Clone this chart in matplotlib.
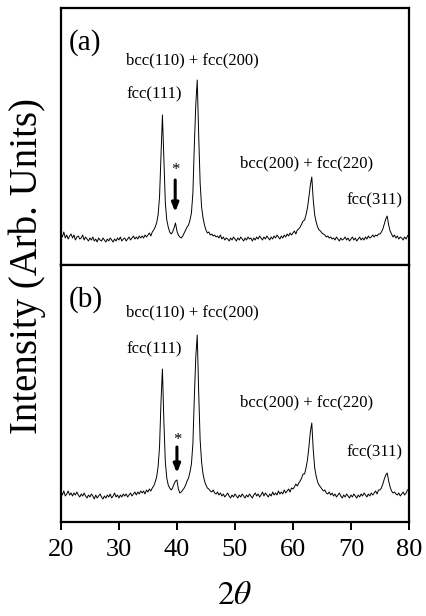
import numpy as np
import matplotlib
matplotlib.use("Agg")
import matplotlib.pyplot as plt

# 2theta grid, 0.25 degree steps from 20 to 80
two_theta = np.arange(20, 80.001, 0.25)

# intensity, 4 values per degree
int_a = [
    31, 28, 33, 27,  30, 26, 29, 31,  27, 30, 25, 28,  29, 26, 27, 30,   # 20-23
    25, 28, 26, 24,  27, 25, 28, 24,  26, 23, 27, 25,  24, 27, 25, 23,   # 24-27
    26, 24, 27, 25,  23, 26, 24, 27,  25, 28, 24, 26,  27, 24, 26, 28,   # 28-31
    25, 27, 29, 26,  28, 26, 29, 27,  29, 27, 30, 28,  30, 32, 29, 33,   # 32-35
    35, 38, 42, 50,  68, 110, 150, 105,  62, 45, 38, 33,  31, 33, 37, 42,  # 36-39
    34, 30, 28, 27,  29, 32, 35, 38,  40, 45, 52, 72,  120, 160, 185, 130,  # 40-43
    82, 58, 47, 40,  35, 32, 33, 30,  31, 29, 30, 28,  29, 27, 30, 26,   # 44-47
    28, 25, 27, 26,  24, 27, 25, 28,  26, 24, 27, 25,  28, 26, 24, 27,   # 48-51
    25, 28, 26, 27,  24, 27, 25, 28,  26, 29, 27, 25,  28, 26, 29, 27,   # 52-55
    25, 28, 26, 29,  27, 30, 28, 26,  29, 27, 30, 28,  31, 29, 32, 30,   # 56-59
    32, 34, 31, 35,  36, 38, 41, 44,  45, 50, 57, 68,  80, 88, 65, 50,   # 60-63
    43, 38, 35, 34,  32, 31, 30, 28,  29, 27, 28, 26,  27, 25, 28, 26,   # 64-67
    24, 27, 25, 26,  28, 25, 27, 24,  26, 28, 25, 27,  24, 26, 28, 25,   # 68-71
    27, 25, 28, 26,  29, 27, 28, 30,  28, 30, 29, 31,  31, 33, 36, 41,   # 72-75
    46, 49, 40, 34,  31, 28, 30, 27,  29, 26, 28, 27,  25, 28, 26, 29,   # 76-79
    31,                                                                  # 80
]

# intensity
int_b = [
    30, 27, 31, 26,  28, 31, 27, 29,  26, 29, 27, 30,  27, 25, 28, 26,   # 20-23
    29, 26, 24, 27,  25, 28, 26, 23,  27, 24, 26, 28,  25, 23, 26, 24,   # 24-27
    27, 25, 28, 24,  26, 29, 25, 27,  24, 27, 25, 28,  26, 28, 25, 27,   # 28-31
    29, 26, 28, 30,  27, 30, 28, 31,  29, 31, 28, 32,  30, 33, 31, 34,   # 32-35
    36, 40, 45, 55,  75, 120, 153, 100,  60, 44, 37, 34,  32, 34, 38, 41,  # 36-39
    42, 33, 29, 30,  32, 34, 37, 41,  44, 50, 58, 78,  125, 165, 187, 130,  # 40-43
    82, 60, 48, 41,  37, 34, 33, 31,  30, 32, 29, 28,  30, 27, 29, 26,   # 44-47
    28, 25, 27, 29,  26, 24, 27, 25,  28, 26, 24, 27,  25, 28, 26, 24,   # 48-51
    27, 25, 28, 26,  24, 27, 29, 26,  28, 25, 27, 30,  26, 29, 27, 25,   # 52-55
    28, 26, 30, 27,  29, 27, 31, 28,  30, 28, 32, 29,  31, 33, 30, 34,   # 56-59
    33, 35, 38, 36,  39, 41, 44, 48,  48, 54, 62, 75,  90, 99, 72, 54,   # 60-63
    46, 40, 37, 35,  33, 31, 32, 29,  28, 30, 27, 29,  26, 28, 25, 27,   # 64-67
    29, 26, 24, 27,  25, 28, 26, 24,  27, 25, 28, 26,  24, 27, 25, 28,   # 68-71
    26, 29, 27, 25,  28, 26, 29, 27,  29, 31, 28, 32,  32, 34, 38, 43,   # 72-75
    47, 49, 41, 35,  31, 29, 30, 28,  27, 29, 26, 28,  30, 27, 29, 32,   # 76-79
    33,                                                                  # 80
]

panel_tags = ["(a)", "(b)"]
peak_labels = ["bcc(110) + fcc(200)", "fcc(111)", "bcc(200) + fcc(220)", "fcc(311)"]
label_x = [31.3, 31.3, 50.8, 69.2]
label_y_a = [205, 171, 102, 65]
label_y_b = [210, 173, 120, 70]
star_x = [39.7, 40.0]
star_y = [95, 82]
arrow_top = [85, 75]
arrow_tip = [53, 49]

serif = "Liberation Serif"
plt.rcParams["font.family"] = serif
plt.rcParams["mathtext.fontset"] = "stix"

fig = plt.figure(figsize=(4.26, 6.16), dpi=100)
ax_a = fig.add_axes([0.143, 0.5698, 0.817, 0.4172])
ax_b = fig.add_axes([0.143, 0.1526, 0.817, 0.4172])

for i, (ax, y, ly) in enumerate([(ax_a, int_a, label_y_a), (ax_b, int_b, label_y_b)]):
    ax.plot(two_theta, y, color="black", lw=0.7)
    ax.set_xlim(20, 80)
    ax.set_ylim(0, 257)
    ax.set_yticks([])
    for s in ax.spines.values():
        s.set_linewidth(1.6)
    ax.text(21.4, 222, panel_tags[i], fontsize=21, va="center", ha="left")
    for lab, lx, yy in zip(peak_labels, label_x, ly):
        ax.text(lx, yy, lab, fontsize=12, va="center", ha="left")
    ax.text(star_x[i], star_y[i], "*", fontsize=12, ha="center", va="center")
    ax.annotate("", xy=(star_x[i], arrow_tip[i]), xytext=(star_x[i], arrow_top[i]),
                arrowprops=dict(arrowstyle="-|>,head_width=0.2,head_length=0.5",
                                lw=2.2, color="black", shrinkA=0, shrinkB=0))

ax_a.set_xticks([])
ax_b.set_xticks([20, 30, 40, 50, 60, 70, 80])
ax_b.tick_params(axis="x", direction="out", length=6, width=1.4, labelsize=19, pad=6)
for t in ax_b.get_xticklabels():
    t.set_fontfamily(serif)
ax_b.set_xlabel(r"$2\theta$", fontsize=24, labelpad=14)

fig.text(0.064, 0.568, "Intensity (Arb. Units)", rotation=90, fontsize=28,
         ha="center", va="center")

fig.savefig("out.png", dpi=100)
